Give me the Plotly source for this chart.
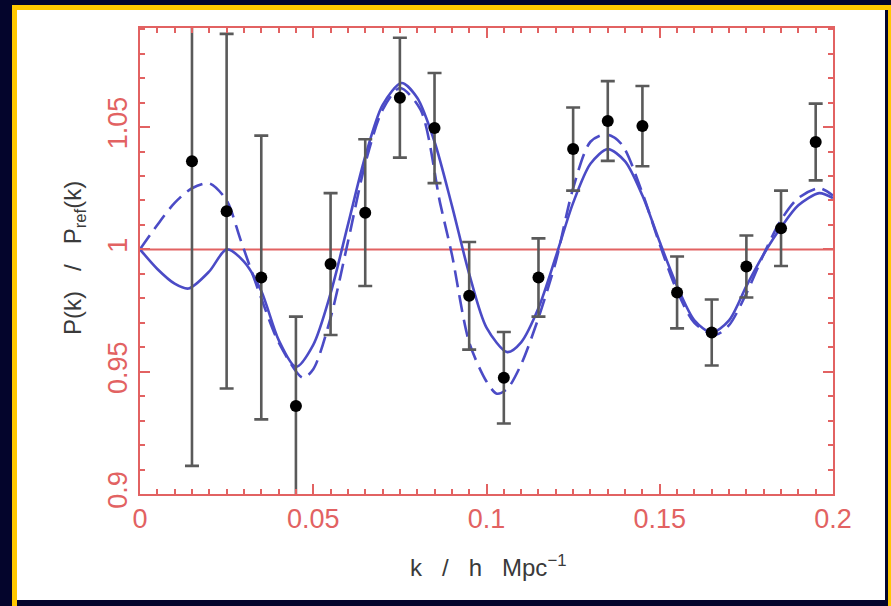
import plotly.graph_objects as go

# ---- data ----
k_pts = [0.015, 0.025, 0.035, 0.045, 0.055, 0.065, 0.075, 0.085, 0.095, 0.105,
         0.115, 0.125, 0.135, 0.145, 0.155, 0.165, 0.175, 0.185, 0.195]
ratio_pts = [1.036, 1.0156, 0.9885, 0.936, 0.994, 1.015, 1.062, 1.0496, 0.981, 0.9475,
             0.9885, 1.041, 1.0525, 1.0504, 0.9824, 0.966, 0.993, 1.0086, 1.0439]
ratio_err = [0.1245, 0.0725, 0.058, 0.0365, 0.029, 0.030, 0.0245, 0.0225, 0.022, 0.0187,
             0.016, 0.017, 0.0163, 0.0164, 0.0147, 0.0135, 0.0127, 0.0154, 0.0157]

k_solid = [0.0, 0.005, 0.010, 0.014, 0.020, 0.025, 0.030, 0.035, 0.040, 0.045,
           0.050, 0.055, 0.060, 0.065, 0.070, 0.0755, 0.080, 0.085, 0.090, 0.095,
           0.100, 0.106, 0.110, 0.115, 0.120, 0.125, 0.130, 0.135, 0.140, 0.145,
           0.150, 0.155, 0.160, 0.165, 0.170, 0.175, 0.180, 0.185, 0.190, 0.196, 0.200]
ratio_solid = [1.000, 0.992, 0.986, 0.984, 0.991, 1.000, 0.995, 0.983, 0.963, 0.952,
               0.961, 0.982, 1.010, 1.038, 1.059, 1.068, 1.062, 1.044, 1.018, 0.990,
               0.968, 0.958, 0.962, 0.976, 0.997, 1.019, 1.035, 1.041, 1.036, 1.022,
               1.003, 0.985, 0.971, 0.966, 0.971, 0.985, 0.998, 1.009, 1.018, 1.023, 1.021]

k_dash = [0.0, 0.005, 0.010, 0.015, 0.020, 0.025, 0.029, 0.035, 0.040, 0.047,
          0.050, 0.055, 0.060, 0.065, 0.070, 0.075, 0.081, 0.0866, 0.090, 0.095,
          0.100, 0.103, 0.106, 0.110, 0.115, 0.120, 0.125, 0.130, 0.1345, 0.139,
          0.145, 0.150, 0.155, 0.160, 0.166, 0.170, 0.175, 0.180, 0.185, 0.190, 0.196, 0.200]
ratio_dash = [1.000, 1.010, 1.019, 1.025, 1.027, 1.020, 1.004, 0.980, 0.962, 0.9475,
              0.951, 0.972, 1.003, 1.035, 1.057, 1.066, 1.057, 1.019, 0.998, 0.962,
              0.946, 0.941, 0.943, 0.953, 0.972, 0.995, 1.025, 1.044, 1.047, 1.043,
              1.023, 1.002, 0.983, 0.970, 0.965, 0.969, 0.982, 0.998, 1.012, 1.021, 1.025, 1.022]

x_ticks = [0, 0.05, 0.1, 0.15, 0.2]
x_labels = ["0", "0.05", "0.1", "0.15", "0.2"]
y_ticks = [0.9, 0.95, 1.0, 1.05]
y_labels = ["0.9", "0.95", "1", "1.05"]
x_range = [0.0, 0.2]
y_range = [0.9, 1.0905]
ref_level = 1.0

# ---- styling ----
W, H = 891, 606
L, R, T, B = 140, 833, 28, 494
RED = "#e26262"
BLUE = "#4b4bc6"
NAVY = "#04052c"
YELLOW = "#ffc800"

def px(x):
    return (x - L) / (R - L)

def py(y):
    return (B - y) / (B - T)

fig = go.Figure()

fig.add_trace(go.Scatter(x=k_dash, y=ratio_dash, mode="lines",
                         line=dict(color=BLUE, width=2.6, dash="17px,8px", shape="spline", smoothing=0.8),
                         showlegend=False, hoverinfo="skip"))
fig.add_trace(go.Scatter(x=k_solid, y=ratio_solid, mode="lines",
                         line=dict(color=BLUE, width=2.6, shape="spline", smoothing=0.8),
                         showlegend=False, hoverinfo="skip"))
fig.add_trace(go.Scatter(x=k_pts, y=ratio_pts, mode="markers",
                         marker=dict(color="black", size=12),
                         error_y=dict(type="data", array=ratio_err, color="#5a5a5a",
                                      thickness=2.6, width=7),
                         showlegend=False))

shapes = [
    dict(type="rect", xref="paper", yref="paper", x0=px(12), x1=px(891), y0=py(606), y1=py(5),
         fillcolor=YELLOW, line=dict(width=0), layer="below"),
    dict(type="rect", xref="paper", yref="paper", x0=px(17), x1=px(888), y0=py(606), y1=py(10),
         fillcolor=NAVY, line=dict(width=0), layer="below"),
    dict(type="rect", xref="paper", yref="paper", x0=px(17), x1=px(885), y0=py(600), y1=py(10),
         fillcolor="white", line=dict(width=0), layer="below"),
    dict(type="line", xref="x", yref="y", x0=x_range[0], x1=x_range[1], y0=ref_level, y1=ref_level,
         line=dict(color=RED, width=2), layer="below"),
]

tickfont = dict(family="Liberation Sans, Arial, sans-serif", size=27, color=RED)
titlefont = dict(family="Liberation Sans, Arial, sans-serif", size=24, color="#3a3a3a")

fig.update_layout(
    width=W, height=H,
    margin=dict(l=L, r=W - R, t=T, b=H - B),
    paper_bgcolor=NAVY,
    plot_bgcolor="rgba(0,0,0,0)",
    shapes=shapes,
    xaxis=dict(range=x_range, tickvals=x_ticks, ticktext=x_labels, showgrid=False, zeroline=False,
               showline=True, linecolor=RED, linewidth=2, mirror="ticks",
               ticks="inside", ticklen=10, tickwidth=2, tickcolor=RED, tickfont=tickfont,
               minor=dict(dtick=0.005, tick0=0, ticks="inside", ticklen=5, tickwidth=2,
                          tickcolor=RED, showgrid=False)),
    yaxis=dict(range=y_range, tickvals=y_ticks, ticktext=y_labels, showgrid=False, zeroline=False,
               showline=True, linecolor=RED, linewidth=2, mirror="ticks",
               ticks="inside", ticklen=10, tickwidth=2, tickcolor=RED, tickfont=tickfont,
               tickangle=-90,
               minor=dict(dtick=0.01, tick0=0.9, ticks="inside", ticklen=5, tickwidth=2,
                          tickcolor=RED, showgrid=False)),
    annotations=[
        dict(text="k   /   h   Mpc<sup>−1</sup>", xref="paper", yref="paper",
             x=px(488), y=py(566), showarrow=False, font=titlefont,
             xanchor="center", yanchor="middle"),
        dict(text="P(k)   /   P<sub>ref</sub>(k)", xref="paper", yref="paper",
             x=px(74), y=py(258), showarrow=False, font=titlefont, textangle=-90,
             xanchor="center", yanchor="middle"),
    ],
)

fig.write_html("out.html", config={"displayModeBar": False},
               post_script="document.body.style.margin='0';document.body.style.background='#04052c';")
